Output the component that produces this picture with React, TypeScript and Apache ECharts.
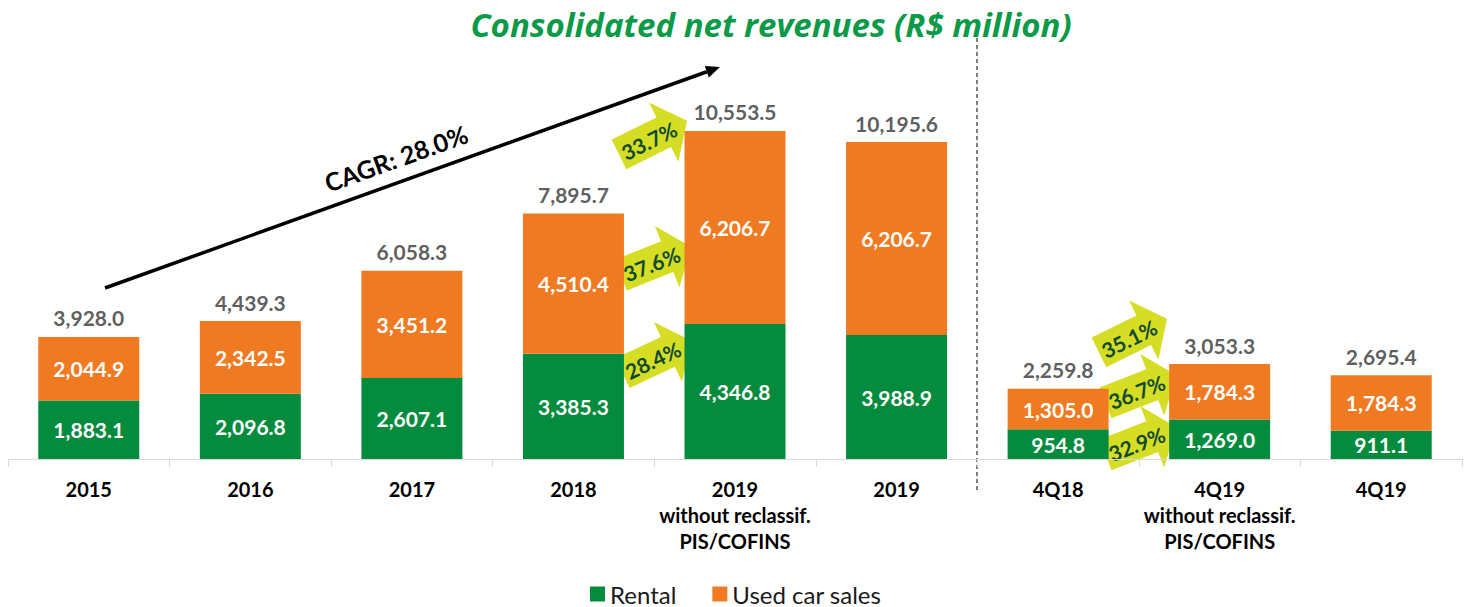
import React, { useEffect, useRef } from "react";
import * as echarts from "echarts";

const categories = [
  "2015",
  "2016",
  "2017",
  "2018",
  "2019\nwithout reclassif.\nPIS/COFINS",
  "2019",
  "4Q18",
  "4Q19\nwithout reclassif.\nPIS/COFINS",
  "4Q19",
];
const rental = [1883.1, 2096.8, 2607.1, 3385.3, 4346.8, 3988.9, 954.8, 1269.0, 911.1];
const usedCarSales = [2044.9, 2342.5, 3451.2, 4510.4, 6206.7, 6206.7, 1305.0, 1784.3, 1784.3];
const totals = [3928.0, 4439.3, 6058.3, 7895.7, 10553.5, 10195.6, 2259.8, 3053.3, 2695.4];
const seriesNames = ["Rental", "Used car sales"];
const annualGrowth = ["33.7%", "37.6%", "28.4%"];
const quarterGrowth = ["35.1%", "36.7%", "32.9%"];
const cagrLabel = "CAGR: 28.0%";
const titleText = "Consolidated net revenues (R$ million)";

const GREEN = "#058B3E";
const ORANGE = "#F07A22";
const FONT = "Lato, 'Open Sans', sans-serif";

const fmt = (v: number) =>
  v.toLocaleString("en-US", { minimumFractionDigits: 1, maximumFractionDigits: 1 });

function blockArrow(x: number, y: number, rot: number, text: string) {
  return {
    type: "group",
    x,
    y,
    rotation: rot,
    children: [
      {
        type: "polygon",
        shape: {
          points: [
            [-38, -16.5],
            [12, -16.5],
            [12, -33],
            [38, 0],
            [12, 33],
            [12, 16.5],
            [-38, 16.5],
          ],
        },
        style: { fill: "#D5DD24" },
      },
      {
        type: "text",
        x: -5,
        y: 1,
        style: {
          text,
          fill: "#0F4A30",
          font: `bold 21px ${FONT}`,
          textAlign: "center",
          textVerticalAlign: "middle",
          align: "center",
          verticalAlign: "middle",
        },
      },
    ],
  };
}

export default function App() {
  const ref = useRef<HTMLDivElement>(null);

  useEffect(() => {
    if (!ref.current) return;
    const chart = echarts.init(ref.current, undefined, { renderer: "svg" });

    const x0 = 105, y0 = 288, x1 = 720, y1 = 67;
    const ang = Math.atan2(y0 - y1, x1 - x0);
    const headLen = 14;
    const lx = x1 - headLen * Math.cos(ang);
    const ly = y1 + headLen * Math.sin(ang);
    const px = Math.sin(ang) * 6;
    const py = Math.cos(ang) * 6;

    chart.setOption({
      animation: false,
      title: {
        text: titleText,
        left: 766,
        textAlign: "center",
        top: 3,
        textStyle: {
          fontFamily: "'Open Sans', Lato, sans-serif",
          fontSize: 33,
          fontWeight: "bold",
          fontStyle: "italic",
          color: "#0A9A48",
        },
      },
      legend: {
        data: seriesNames,
        left: 585,
        top: 577,
        icon: "rect",
        itemWidth: 15,
        itemHeight: 15,
        itemGap: 36,
        textStyle: {
          fontFamily: FONT,
          fontSize: 24,
          color: "#1a1a1a",
        },
      },
      grid: { left: 8, right: 6, top: 86, bottom: 148 },
      xAxis: {
        type: "category",
        data: categories,
        axisLine: { lineStyle: { color: "#D9D9D9", width: 1 } },
        axisTick: { show: true, length: 8, lineStyle: { color: "#D9D9D9" } },
        axisLabel: {
          interval: 0,
          margin: 17,
          fontFamily: FONT,
          fontSize: 20,
          fontWeight: "bold",
          color: "#000",
          lineHeight: 26,
        },
      },
      yAxis: { type: "value", min: 0, max: 12000, show: false, splitLine: { show: false } },
      series: [
        {
          name: seriesNames[0],
          type: "bar",
          stack: "total",
          barWidth: 101,
          data: rental,
          itemStyle: { color: GREEN },
          label: {
            show: true,
            position: "inside",
            color: "#fff",
            fontFamily: FONT,
            fontWeight: "bold",
            fontSize: 21,
            formatter: (p: any) => fmt(p.value),
          },
        },
        {
          name: seriesNames[1],
          type: "bar",
          stack: "total",
          barWidth: 101,
          data: usedCarSales,
          itemStyle: { color: ORANGE },
          label: {
            show: true,
            position: "inside",
            color: "#fff",
            fontFamily: FONT,
            fontWeight: "bold",
            fontSize: 21,
            formatter: (p: any) => fmt(p.value),
          },
        },
        {
          name: "Total",
          type: "scatter",
          data: totals,
          symbolSize: 1,
          itemStyle: { color: "rgba(0,0,0,0)" },
          label: {
            show: true,
            position: "top",
            distance: 8,
            color: "#333333",
            fontFamily: FONT,
            fontWeight: "bold",
            fontSize: 21,
            formatter: (p: any) => fmt(p.value),
          },
          silent: true,
        },
      ],
      graphic: [
        {
          type: "line",
          shape: { x1: 977, y1: 38, x2: 977, y2: 492 },
          style: { stroke: "#000", lineWidth: 1, lineDash: [4, 3] },
        },
        {
          type: "line",
          shape: { x1: x0, y1: y0, x2: lx, y2: ly },
          style: { stroke: "#000", lineWidth: 3.5 },
        },
        {
          type: "polygon",
          shape: {
            points: [
              [x1, y1],
              [lx - px, ly - py],
              [lx + px, ly + py],
            ],
          },
          style: { fill: "#000" },
        },
        {
          type: "text",
          x: 396,
          y: 158,
          rotation: ang,
          style: {
            text: cagrLabel,
            fill: "#000",
            font: `bold 25px ${FONT}`,
            textAlign: "center",
            textVerticalAlign: "middle",
            align: "center",
            verticalAlign: "middle",
          },
        },
        blockArrow(653, 137.5, 0.46, annualGrowth[0]),
        blockArrow(656, 261, 0.38, annualGrowth[1]),
        blockArrow(657, 357, 0.44, annualGrowth[2]),
        blockArrow(1133, 335.5, 0.46, quarterGrowth[0]),
        blockArrow(1141, 389, 0.37, quarterGrowth[1]),
        blockArrow(1141, 441, 0.37, quarterGrowth[2]),
      ],
    });

    return () => chart.dispose();
  }, []);

  return (
    <div
      ref={ref}
      style={{ position: "fixed", left: 0, top: 0, width: 1468, height: 607, background: "#fff" }}
    />
  );
}
